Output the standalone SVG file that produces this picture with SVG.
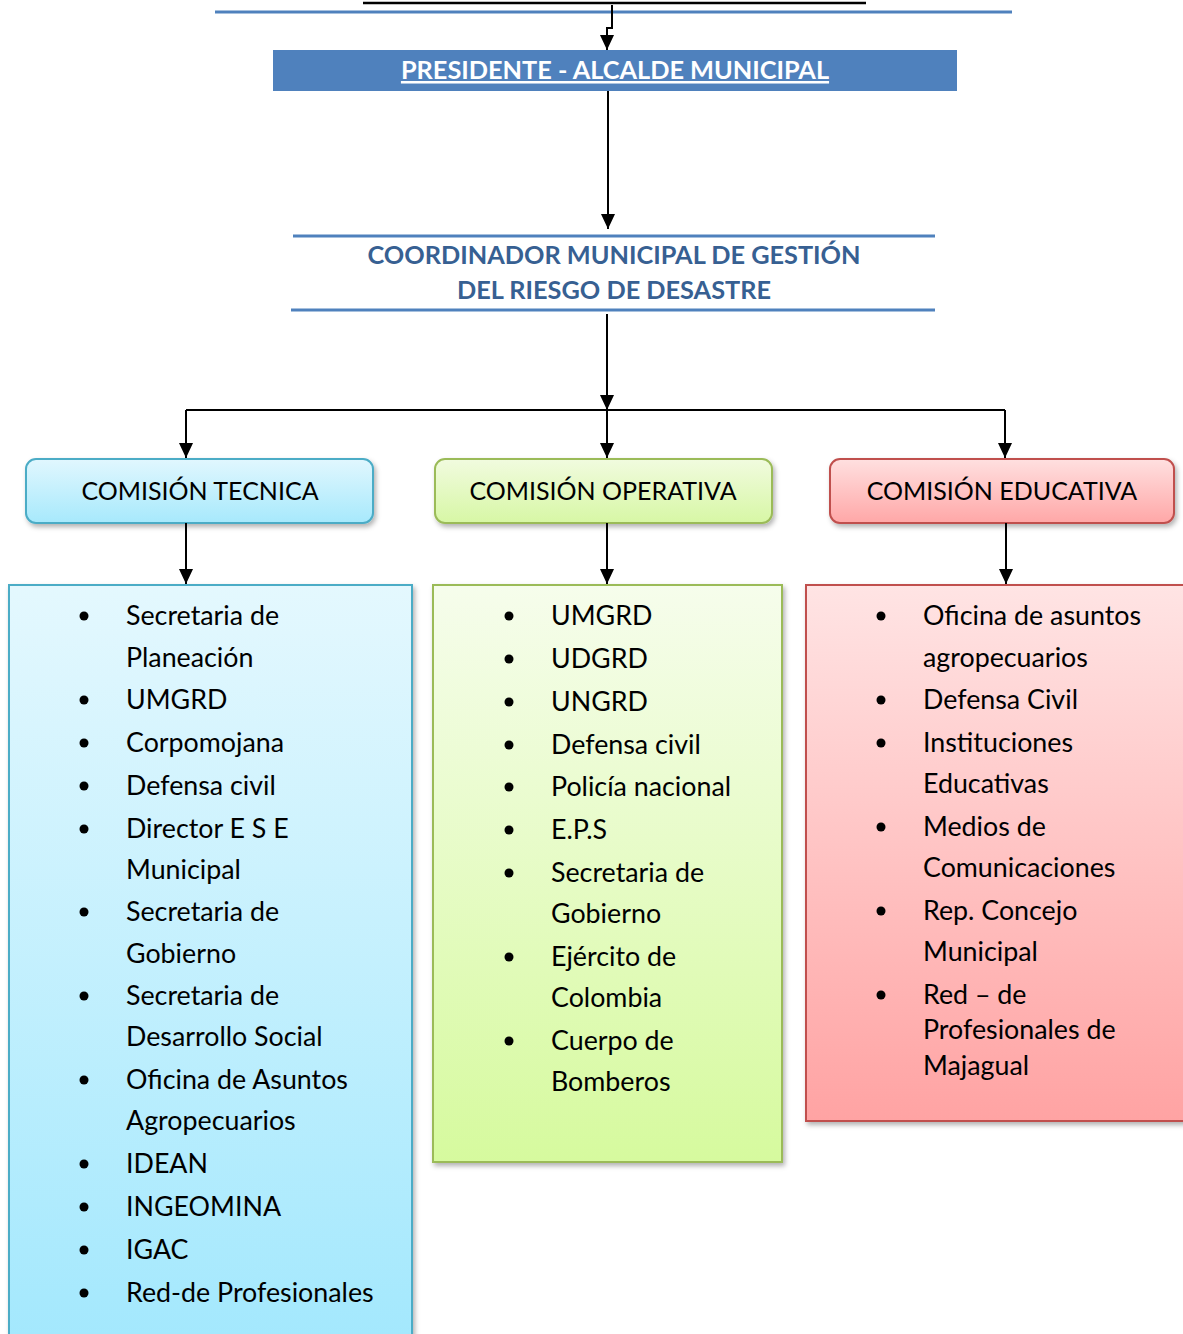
<svg xmlns="http://www.w3.org/2000/svg" width="1183" height="1334" viewBox="0 0 1183 1334">
<style>
.conn{fill:none;stroke:#000;stroke-width:2}
.item{font-family:Lato,"Open Sans","Liberation Sans",sans-serif;font-size:26.8px;fill:#000}
.head{font-family:Lato,"Open Sans","Liberation Sans",sans-serif;font-size:25px;fill:#000;text-anchor:middle}
.coord{font-family:Lato,"Open Sans","Liberation Sans",sans-serif;font-size:25.3px;font-weight:bold;fill:#376092;text-anchor:middle}
.blue{stroke:#4F81BD;stroke-width:3}
</style>
<defs>
<marker id="arr" markerUnits="userSpaceOnUse" markerWidth="15" markerHeight="14" refX="15" refY="7" orient="auto">
<path d="M0,0 L15,7 L0,14 z" fill="#000"/>
</marker>
<filter id="sh" x="-5%" y="-5%" width="115%" height="120%">
<feDropShadow dx="2" dy="3" stdDeviation="2.5" flood-color="#000" flood-opacity="0.3"/>
</filter>
<linearGradient id="gT" x1="0" y1="0" x2="0" y2="1"><stop offset="0" stop-color="#E1F7FE"/><stop offset="1" stop-color="#A7E9FC"/></linearGradient>
<linearGradient id="gO" x1="0" y1="0" x2="0" y2="1"><stop offset="0" stop-color="#F1FBDF"/><stop offset="1" stop-color="#D7F7A5"/></linearGradient>
<linearGradient id="gE" x1="0" y1="0" x2="0" y2="1"><stop offset="0" stop-color="#FFE0E0"/><stop offset="1" stop-color="#FFA7A7"/></linearGradient>
<linearGradient id="gTL" x1="0" y1="0" x2="0" y2="1"><stop offset="0" stop-color="#E4F8FE"/><stop offset="1" stop-color="#A3E8FD"/></linearGradient>
<linearGradient id="gOL" x1="0" y1="0" x2="0" y2="1"><stop offset="0" stop-color="#F6FDEC"/><stop offset="1" stop-color="#D6FA9E"/></linearGradient>
<linearGradient id="gEL" x1="0" y1="0" x2="0" y2="1"><stop offset="0" stop-color="#FFE4E4"/><stop offset="1" stop-color="#FFA3A3"/></linearGradient>
</defs>
<rect width="1183" height="1334" fill="#fff"/>

<g id="top-lines">
<line x1="363" y1="3" x2="866" y2="3" stroke="#000" stroke-width="2.5"/>
<line x1="215" y1="12" x2="1012" y2="12" class="blue"/>
</g>

<g id="presidente">
<rect x="273" y="50" width="684" height="41" fill="#4F81BD"/>
<text x="615" y="79" font-family="Lato,'Open Sans','Liberation Sans',sans-serif" font-size="25.3" font-weight="bold" fill="#fff" text-anchor="middle" text-decoration="underline">PRESIDENTE - ALCALDE MUNICIPAL</text>
</g>

<g id="coordinador">
<line x1="293" y1="236" x2="935" y2="236" class="blue"/>
<line x1="291" y1="310" x2="935" y2="310" class="blue"/>
<text class="coord" x="614" y="264">COORDINADOR MUNICIPAL DE GESTIÓN</text>
<text class="coord" x="614" y="299">DEL RIESGO DE DESASTRE</text>
</g>

<g id="comision-tecnica">
<rect x="26" y="459" width="347" height="64" rx="10" fill="url(#gT)" stroke="#4BACC6" stroke-width="2" filter="url(#sh)"/>
<text class="head" x="200" y="500">COMISIÓN TECNICA</text>
</g>
<g id="comision-operativa">
<rect x="435" y="459" width="337" height="64" rx="10" fill="url(#gO)" stroke="#9BBB59" stroke-width="2" filter="url(#sh)"/>
<text class="head" x="603" y="500">COMISIÓN OPERATIVA</text>
</g>
<g id="comision-educativa">
<rect x="830" y="459" width="344" height="64" rx="10" fill="url(#gE)" stroke="#C0504D" stroke-width="2" filter="url(#sh)"/>
<text class="head" x="1002" y="500">COMISIÓN EDUCATIVA</text>
</g>

<g id="lista-tecnica">
<rect x="9" y="585" width="403" height="760" fill="url(#gTL)" stroke="#4BACC6" stroke-width="2" filter="url(#sh)"/>
<g fill="#000">
<circle cx="84" cy="616" r="4.5"/><circle cx="84" cy="700" r="4.5"/><circle cx="84" cy="743" r="4.5"/><circle cx="84" cy="786" r="4.5"/><circle cx="84" cy="829" r="4.5"/><circle cx="84" cy="912" r="4.5"/><circle cx="84" cy="996" r="4.5"/><circle cx="84" cy="1080" r="4.5"/><circle cx="84" cy="1164" r="4.5"/><circle cx="84" cy="1207" r="4.5"/><circle cx="84" cy="1250" r="4.5"/><circle cx="84" cy="1293" r="4.5"/>
</g>
<text class="item" x="126" y="625">Secretaria de</text>
<text class="item" x="126" y="667">Planeación</text>
<text class="item" x="126" y="709">UMGRD</text>
<text class="item" x="126" y="752">Corpomojana</text>
<text class="item" x="126" y="795">Defensa civil</text>
<text class="item" x="126" y="838">Director E S E</text>
<text class="item" x="126" y="879">Municipal</text>
<text class="item" x="126" y="921">Secretaria de</text>
<text class="item" x="126" y="963">Gobierno</text>
<text class="item" x="126" y="1005">Secretaria de</text>
<text class="item" x="126" y="1046">Desarrollo Social</text>
<text class="item" x="126" y="1089">Oficina de Asuntos</text>
<text class="item" x="126" y="1130">Agropecuarios</text>
<text class="item" x="126" y="1173">IDEAN</text>
<text class="item" x="126" y="1216">INGEOMINA</text>
<text class="item" x="126" y="1259">IGAC</text>
<text class="item" x="126" y="1302">Red-de Profesionales</text>
</g>

<g id="lista-operativa">
<rect x="433" y="585" width="349" height="577" fill="url(#gOL)" stroke="#9BBB59" stroke-width="2" filter="url(#sh)"/>
<g fill="#000">
<circle cx="509" cy="616" r="4.5"/><circle cx="509" cy="659" r="4.5"/><circle cx="509" cy="702" r="4.5"/><circle cx="509" cy="745" r="4.5"/><circle cx="509" cy="787" r="4.5"/><circle cx="509" cy="830" r="4.5"/><circle cx="509" cy="873" r="4.5"/><circle cx="509" cy="957" r="4.5"/><circle cx="509" cy="1041" r="4.5"/>
</g>
<text class="item" x="551" y="625">UMGRD</text>
<text class="item" x="551" y="668">UDGRD</text>
<text class="item" x="551" y="711">UNGRD</text>
<text class="item" x="551" y="754">Defensa civil</text>
<text class="item" x="551" y="796">Policía nacional</text>
<text class="item" x="551" y="839">E.P.S</text>
<text class="item" x="551" y="882">Secretaria de</text>
<text class="item" x="551" y="923">Gobierno</text>
<text class="item" x="551" y="966">Ejército de</text>
<text class="item" x="551" y="1007">Colombia</text>
<text class="item" x="551" y="1050">Cuerpo de</text>
<text class="item" x="551" y="1091">Bomberos</text>
</g>

<g id="lista-educativa">
<rect x="806" y="585" width="390" height="536" fill="url(#gEL)" stroke="#C0504D" stroke-width="2" filter="url(#sh)"/>
<g fill="#000">
<circle cx="881" cy="616" r="4.5"/><circle cx="881" cy="700" r="4.5"/><circle cx="881" cy="743" r="4.5"/><circle cx="881" cy="827" r="4.5"/><circle cx="881" cy="911" r="4.5"/><circle cx="881" cy="995" r="4.5"/>
</g>
<text class="item" x="923" y="625">Oficina de asuntos</text>
<text class="item" x="923" y="667">agropecuarios</text>
<text class="item" x="923" y="709">Defensa Civil</text>
<text class="item" x="923" y="752">Instituciones</text>
<text class="item" x="923" y="793">Educativas</text>
<text class="item" x="923" y="836">Medios de</text>
<text class="item" x="923" y="877">Comunicaciones</text>
<text class="item" x="923" y="920">Rep. Concejo</text>
<text class="item" x="923" y="961">Municipal</text>
<text class="item" x="923" y="1004">Red – de</text>
<text class="item" x="923" y="1039">Profesionales de</text>
<text class="item" x="923" y="1075">Majagual</text>
</g>

<g id="connectors">
<path class="conn" d="M612,5 L612,28 L607,28 L607,50" marker-end="url(#arr)"/>
<path class="conn" d="M608,91 L608,229" marker-end="url(#arr)"/>
<path class="conn" d="M607,314 L607,410" marker-end="url(#arr)"/>
<path class="conn" d="M186,410 L1005,410"/>
<path class="conn" d="M186,410 L186,458" marker-end="url(#arr)"/>
<path class="conn" d="M607,410 L607,458" marker-end="url(#arr)"/>
<path class="conn" d="M1005,410 L1005,458" marker-end="url(#arr)"/>
<path class="conn" d="M186,523 L186,584" marker-end="url(#arr)"/>
<path class="conn" d="M607,523 L607,584" marker-end="url(#arr)"/>
<path class="conn" d="M1006,523 L1006,584" marker-end="url(#arr)"/>
</g>
</svg>
